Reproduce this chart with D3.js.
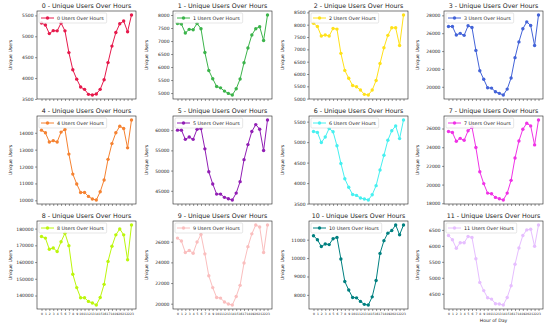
<!DOCTYPE html>
<html>
<head>
<meta charset="utf-8">
<script src="https://cdn.jsdelivr.net/npm/d3@7"></script>
<style>
    body { margin: 0; background: #fff; }
    svg { display: block; font-family: "DejaVu Sans", sans-serif; }
</style>
</head>
<body>
<svg id="chart"></svg>
<script>
const hours = [0, 1, 2, 3, 4, 5, 6, 7, 8, 9, 10, 11, 12, 13, 14, 15, 16, 17, 18, 19, 20, 21, 22, 23];

const users0 = [5318, 5270, 5065, 5135, 5130, 5318, 5130, 4610, 4200, 3975, 3785, 3730, 3610, 3595, 3620, 3730, 3960, 4370, 4765, 5090, 5300, 5365, 5110, 5510];
const users1 = [7674, 7650, 7310, 7448, 7435, 7674, 7473, 6557, 5866, 5552, 5251, 5200, 5075, 4987, 4925, 5163, 5540, 6167, 6732, 7234, 7473, 7548, 7021, 8000];
const users2 = [8061, 7928, 7542, 7582, 7542, 7848, 7822, 6837, 6146, 5827, 5534, 5481, 5348, 5175, 5148, 5348, 5734, 6425, 7064, 7569, 7875, 7875, 7157, 8394];
const users3 = [26752, 26752, 25798, 25982, 25761, 26826, 26642, 24073, 21798, 20844, 19890, 19853, 19450, 19266, 19083, 19743, 20991, 23266, 25028, 26495, 27266, 26862, 24624, 28037];
const users4 = [14155, 14000, 13457, 13534, 13457, 14039, 14194, 12738, 11553, 10971, 10466, 10466, 10233, 10078, 10019, 10505, 11204, 12427, 13359, 14000, 14388, 14252, 13107, 14757];
const users5 = [60000, 60000, 57730, 58297, 57730, 60243, 60405, 55378, 49700, 46700, 44186, 44186, 43375, 43050, 42725, 44430, 47270, 52700, 56430, 59676, 61378, 60243, 54970, 62514];
const users6 = [5261, 5237, 4990, 5126, 5333, 5253, 4910, 4480, 4105, 3898, 3723, 3700, 3636, 3612, 3588, 3715, 3938, 4320, 4679, 5046, 5277, 5396, 5086, 5540];
const users7 = [25684, 25579, 24630, 24947, 24737, 25754, 26140, 23965, 21368, 20105, 19087, 19017, 18631, 18491, 18351, 19087, 20456, 22842, 24667, 25930, 26561, 26280, 24245, 26912];
const users8 = [175296, 174316, 167650, 168430, 166280, 172160, 177255, 169800, 152750, 144720, 138640, 138640, 136485, 135500, 134330, 138840, 146670, 160400, 169420, 176280, 179800, 176280, 161380, 182160];
const users9 = [26350, 26064, 24952, 25143, 24889, 25968, 26698, 24825, 22698, 21556, 20603, 20540, 20159, 19968, 19873, 20698, 21778, 23937, 25524, 26762, 27619, 27429, 24952, 27619];
const users10 = [11213, 11000, 10627, 10769, 10734, 11053, 11124, 9953, 8728, 8266, 7858, 7840, 7645, 7485, 7450, 7893, 8781, 10254, 10947, 11355, 11497, 11799, 11266, 11799];
const users11 = [6326, 6192, 5925, 6100, 6100, 6295, 6264, 5597, 4856, 4600, 4374, 4333, 4190, 4180, 4149, 4385, 4754, 5423, 5936, 6326, 6500, 6521, 5987, 6654];

const allUsers = [users0, users1, users2, users3, users4, users5, users6, users7, users8, users9, users10, users11];

const yTicks = [
    [3500, 4000, 4500, 5000, 5500],
    [5000, 5500, 6000, 6500, 7000, 7500, 8000],
    [5000, 5500, 6000, 6500, 7000, 7500, 8000, 8500],
    [20000, 22000, 24000, 26000, 28000],
    [10000, 11000, 12000, 13000, 14000],
    [45000, 50000, 55000, 60000],
    [3500, 4000, 4500, 5000, 5500],
    [18000, 20000, 22000, 24000, 26000],
    [140000, 150000, 160000, 170000, 180000],
    [20000, 22000, 24000, 26000],
    [8000, 9000, 10000, 11000],
    [4500, 5000, 5500, 6000, 6500]
];

const colors = ["#e6194b", "#3cb44b", "#ffe119", "#4363d8", "#f58231", "#911eb4",
    "#46f0f0", "#f032e6", "#bcf60c", "#fabebe", "#008080", "#e6beff"];

const width = 550;
const height = 326;

const panelLefts = [37, 173, 309, 444];
const panelTops = [11, 116, 221];
const panelWidth = 99;
const panelHeight = 88;

const svg = d3.select("#chart").attr("width", width).attr("height", height);
svg.append("rect").attr("width", width).attr("height", height).attr("fill", "#fff");

allUsers.forEach((values, i) => {
    const col = i % 4;
    const row = Math.floor(i / 4);
    const left = panelLefts[col];
    const top = panelTops[row];

    const g = svg.append("g").attr("transform", `translate(${left},${top})`);

    const scaleX = d3.scaleLinear().domain([-1.15, 24.15]).range([0, panelWidth]);
    const [min, max] = d3.extent(values);
    const pad = (max - min) * 0.05;
    const scaleY = d3.scaleLinear().domain([min - pad, max + pad]).range([panelHeight, 0]);

    // y axis
    const yAxis = d3.axisLeft(scaleY).tickValues(yTicks[i]).tickSize(2).tickPadding(1.5).tickFormat(d3.format("d"));
    const yG = g.append("g").call(yAxis);
    yG.select(".domain").remove();
    yG.selectAll("line").attr("stroke", "#333").attr("stroke-width", 0.5);
    yG.selectAll("text").attr("fill", "#222").style("font-size", "4.5px").style("font-family", "DejaVu Sans");

    // x axis, labels only on the bottom row
    const xAxis = d3.axisBottom(scaleX).tickValues(hours).tickSize(2).tickPadding(1.5);
    if (row < 2) xAxis.tickFormat("");
    const xG = g.append("g").attr("transform", `translate(0,${panelHeight})`).call(xAxis);
    xG.select(".domain").remove();
    xG.selectAll("line").attr("stroke", "#333").attr("stroke-width", 0.5);
    xG.selectAll("text").attr("fill", "#222").style("font-size", "3px").style("font-family", "DejaVu Sans");

    // frame
    g.append("rect")
        .attr("width", panelWidth)
        .attr("height", panelHeight)
        .attr("fill", "none")
        .attr("stroke", "#222")
        .attr("stroke-width", 0.6);

    const line = d3.line().x((d, j) => scaleX(hours[j])).y((d) => scaleY(d));

    g.append("path")
        .datum(values)
        .attr("fill", "none")
        .attr("stroke", colors[i])
        .attr("stroke-width", 1)
        .attr("d", line);

    g.selectAll("circle.pt")
        .data(values)
        .join("circle")
        .attr("class", "pt")
        .attr("cx", (d, j) => scaleX(hours[j]))
        .attr("cy", (d) => scaleY(d))
        .attr("r", 1.7)
        .attr("fill", colors[i]);

    // title
    g.append("text")
        .attr("x", panelWidth / 2)
        .attr("y", -3)
        .attr("text-anchor", "middle")
        .attr("fill", "#222")
        .style("font-size", "6.3px")
        .text(`${i} - Unique Users Over Hours`);

    // y label
    g.append("text")
        .attr("transform", `translate(-25,${panelHeight / 2}) rotate(-90)`)
        .attr("text-anchor", "middle")
        .attr("fill", "#222")
        .style("font-size", "4.6px")
        .text("Unique Users");

    // legend
    const legend = g.append("g").attr("transform", "translate(2,2)");
    const box = legend.append("rect")
        .attr("height", 10)
        .attr("rx", 1.2)
        .attr("fill", "#fff")
        .attr("fill-opacity", 0.8)
        .attr("stroke", "#ccc")
        .attr("stroke-width", 0.5);
    legend.append("line")
        .attr("x1", 2).attr("x2", 15)
        .attr("y1", 5).attr("y2", 5)
        .attr("stroke", colors[i])
        .attr("stroke-width", 1);
    legend.append("circle").attr("cx", 8.5).attr("cy", 5).attr("r", 1.7).attr("fill", colors[i]);
    const label = legend.append("text")
        .attr("x", 18)
        .attr("y", 6.7)
        .attr("fill", "#222")
        .style("font-size", "4.8px")
        .text(`${i} Users Over Hours`);
    box.attr("width", 18 + label.node().getComputedTextLength() + 3);

    if (i === 11) {
        g.append("text")
            .attr("x", panelWidth / 2)
            .attr("y", panelHeight + 13)
            .attr("text-anchor", "middle")
            .attr("fill", "#222")
            .style("font-size", "4.6px")
            .text("Hour of Day");
    }
});
</script>
</body>
</html>
